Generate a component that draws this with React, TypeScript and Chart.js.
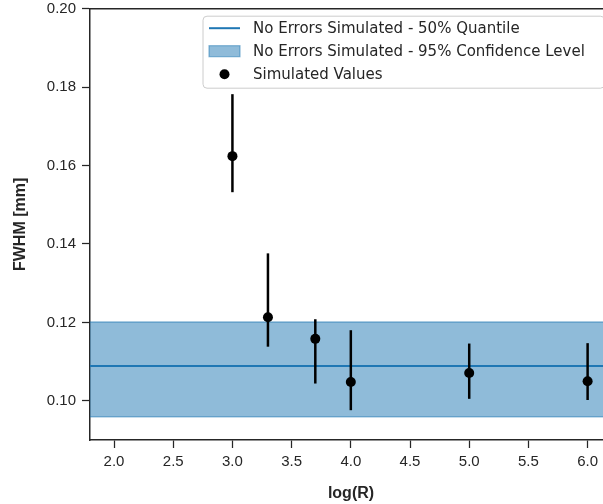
import React, { useEffect, useRef } from "react";
import { Chart, registerables } from "chart.js";

Chart.register(...registerables);

// ---- Data ----
const xValues = [3.0, 3.3, 3.7, 4.0, 5.0, 6.0];
const yValues = [0.1624, 0.1213, 0.1158, 0.1048, 0.1071, 0.105];
const yLow = [0.1532, 0.1138, 0.1044, 0.0976, 0.1005, 0.1002];
const yHigh = [0.1782, 0.1376, 0.1208, 0.118, 0.1146, 0.1147];
const medianValue = 0.1089;
const bandLow = 0.0959;
const bandHigh = 0.1201;
const xRange = [1.797, 6.206];
const yRange = [0.09, 0.2];
const xTicks = [2.0, 2.5, 3.0, 3.5, 4.0, 4.5, 5.0, 5.5, 6.0];
const yTicks = [0.1, 0.12, 0.14, 0.16, 0.18, 0.2];
const legendLabels = [
  "No Errors Simulated - 50% Quantile",
  "No Errors Simulated - 95% Confidence Level",
  "Simulated Values",
];

const BLUE = "#1f77b4";
const BAND = "rgba(31,119,180,0.5)";
const INK = "#262626";

const errorBarPlugin = {
  id: "errorBars",
  beforeDatasetDraw(chart: any, args: any) {
    if (args.index !== 0) return;
    const { ctx, scales } = chart;
    ctx.save();
    ctx.strokeStyle = "#000";
    ctx.lineWidth = 2.5;
    xValues.forEach((x, i) => {
      const px = scales.x.getPixelForValue(x);
      ctx.beginPath();
      ctx.moveTo(px, scales.y.getPixelForValue(yLow[i]));
      ctx.lineTo(px, scales.y.getPixelForValue(yHigh[i]));
      ctx.stroke();
    });
    ctx.restore();
  },
};

const frameLegendPlugin = {
  id: "frameLegend",
  afterDraw(chart: any) {
    const { ctx, chartArea } = chart;
    ctx.save();
    // top and right spines
    ctx.strokeStyle = INK;
    ctx.lineWidth = 1.5;
    ctx.beginPath();
    ctx.moveTo(chartArea.left - 0.75, chartArea.top);
    ctx.lineTo(chartArea.right, chartArea.top);
    ctx.lineTo(chartArea.right, chartArea.bottom);
    ctx.stroke();

    // legend box (upper right)
    const bw = 401.5;
    const bh = 72;
    const bx = chartArea.right - 7.5 - bw;
    const by = chartArea.top + 7.5;
    const r = 4;
    ctx.beginPath();
    ctx.moveTo(bx + r, by);
    ctx.lineTo(bx + bw - r, by);
    ctx.arcTo(bx + bw, by, bx + bw, by + r, r);
    ctx.lineTo(bx + bw, by + bh - r);
    ctx.arcTo(bx + bw, by + bh, bx + bw - r, by + bh, r);
    ctx.lineTo(bx + r, by + bh);
    ctx.arcTo(bx, by + bh, bx, by + bh - r, r);
    ctx.lineTo(bx, by + r);
    ctx.arcTo(bx, by, bx + r, by, r);
    ctx.closePath();
    ctx.fillStyle = "rgba(255,255,255,0.85)";
    ctx.fill();
    ctx.strokeStyle = "#cccccc";
    ctx.lineWidth = 1;
    ctx.stroke();

    const hx0 = bx + 6;
    const hx1 = bx + 37;
    const tx = bx + 50;
    const rows = [by + 12, by + 35, by + 58];
    // line handle
    ctx.strokeStyle = BLUE;
    ctx.lineWidth = 2;
    ctx.beginPath();
    ctx.moveTo(hx0, rows[0]);
    ctx.lineTo(hx1, rows[0]);
    ctx.stroke();
    // patch handle
    ctx.fillStyle = BAND;
    ctx.fillRect(hx0, rows[1] - 5.5, hx1 - hx0, 11);
    ctx.strokeStyle = BAND;
    ctx.lineWidth = 1.2;
    ctx.strokeRect(hx0, rows[1] - 5.5, hx1 - hx0, 11);
    // dot handle
    ctx.fillStyle = "#000";
    ctx.beginPath();
    ctx.arc((hx0 + hx1) / 2, rows[2], 5, 0, Math.PI * 2);
    ctx.fill();

    ctx.fillStyle = INK;
    ctx.font = "15px 'DejaVu Sans'";
    ctx.textBaseline = "middle";
    ctx.textAlign = "left";
    legendLabels.forEach((t, i) => ctx.fillText(t, tx, rows[i] + 0.5));
    ctx.restore();
  },
};

export default function App() {
  const ref = useRef<HTMLCanvasElement | null>(null);
  useEffect(() => {
    if (!ref.current) return;
    const chart = new Chart(ref.current, {
      type: "scatter",
      data: {
        datasets: [
          {
            type: "scatter",
            label: legendLabels[2],
            data: xValues.map((x, i) => ({ x, y: yValues[i] })),
            pointRadius: 5,
            pointHoverRadius: 5,
            backgroundColor: "#000",
            borderColor: "#000",
            borderWidth: 0,
          },
          {
            type: "line",
            label: legendLabels[0],
            data: xRange.map((x) => ({ x, y: medianValue })),
            borderColor: BLUE,
            borderWidth: 2,
            pointRadius: 0,
            fill: false,
          },
          {
            type: "line",
            label: legendLabels[1],
            data: xRange.map((x) => ({ x, y: bandHigh })),
            borderColor: BAND,
            borderWidth: 1.5,
            backgroundColor: BAND,
            pointRadius: 0,
            fill: { value: bandLow },
          },
          {
            type: "line",
            label: "band low",
            data: xRange.map((x) => ({ x, y: bandLow })),
            borderColor: BAND,
            borderWidth: 1.5,
            pointRadius: 0,
            fill: false,
          },
        ],
      },
      options: {
        responsive: false,
        animation: false,
        devicePixelRatio: 1,
        layout: { autoPadding: false, padding: { top: 8.7, right: 0, left: 0, bottom: 0 } },
        plugins: { legend: { display: false }, tooltip: { enabled: false } },
        scales: {
          x: {
            type: "linear",
            min: xRange[0],
            max: xRange[1],
            afterFit: (s: any) => {
              s.height = 64;
              s.paddingLeft = 0;
              s.paddingRight = 0;
            },
            afterBuildTicks: (s: any) => {
              s.ticks = xTicks.map((v) => ({ value: v }));
            },
            grid: {
              display: true,
              drawOnChartArea: false,
              drawTicks: true,
              tickLength: 8,
              tickColor: INK,
              tickWidth: 1.25,
            },
            border: { display: true, color: INK, width: 1.5 },
            ticks: {
              color: INK,
              padding: 5,
              font: { family: "'Liberation Sans', Arial", size: 15 },
              callback: (v: any) => Number(v).toFixed(1),
            },
            title: {
              display: true,
              text: "log(R)",
              color: INK,
              font: { family: "'Liberation Sans', Arial", size: 16, weight: "bold" },
              padding: { top: 0, bottom: 1 },
            },
          },
          y: {
            type: "linear",
            min: yRange[0],
            max: yRange[1],
            afterFit: (s: any) => {
              s.width = 90;
              s.paddingTop = 0;
              s.paddingBottom = 0;
            },
            afterBuildTicks: (s: any) => {
              s.ticks = yTicks.map((v) => ({ value: v }));
            },
            grid: {
              display: true,
              drawOnChartArea: false,
              drawTicks: true,
              tickLength: 8,
              tickColor: INK,
              tickWidth: 1.25,
            },
            border: { display: true, color: INK, width: 1.5 },
            ticks: {
              color: INK,
              padding: 6,
              font: { family: "'Liberation Sans', Arial", size: 15 },
              callback: (v: any) => Number(v).toFixed(2),
            },
            title: {
              display: true,
              text: "FWHM [mm]",
              color: INK,
              font: { family: "'Liberation Sans', Arial", size: 16, weight: "bold" },
              padding: { top: 11, bottom: 0 },
            },
          },
        },
      },
      plugins: [errorBarPlugin, frameLegendPlugin],
    } as any);
    return () => chart.destroy();
  }, []);
  return (
    <div
      style={{
        position: "fixed",
        left: 0,
        top: 0,
        width: 603,
        height: 504,
        overflow: "hidden",
        background: "#fff",
      }}
    >
      <canvas ref={ref} width={612} height={504} style={{ display: "block" }} />
    </div>
  );
}
